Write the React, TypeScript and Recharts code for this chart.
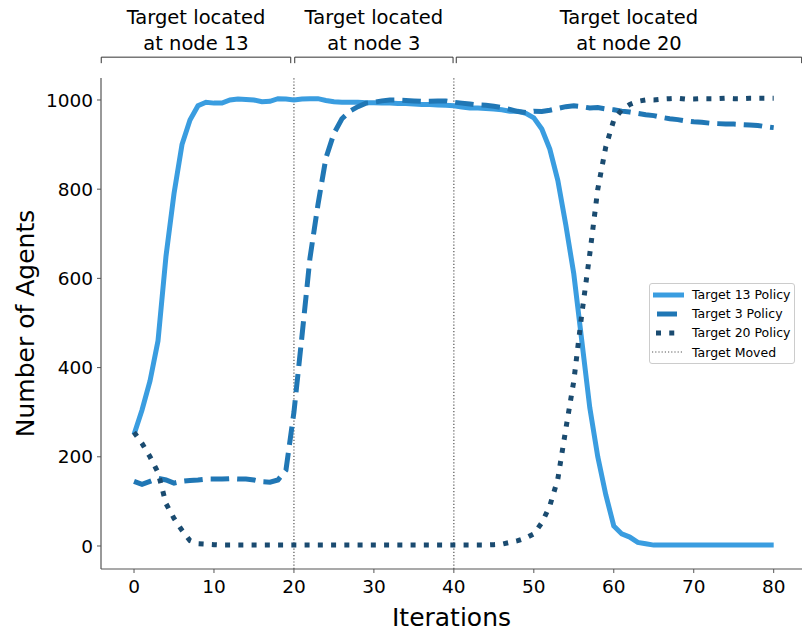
import { Legend, Line, LineChart, ReferenceLine, XAxis, YAxis } from 'recharts'

// agents following each policy, iterations 0..80
const target13 = [
  250, 305, 370, 460, 650, 790, 900, 955, 987, 995,
  993, 993, 1000, 1002, 1001, 1000, 996, 997, 1003, 1002,
  1000, 1002, 1003, 1003, 999, 996, 995, 995, 995, 994,
  994, 993, 993, 992, 992, 991, 990, 990, 989, 988,
  987, 984, 982, 982, 981, 980, 978, 975, 975, 970,
  960, 935, 890, 820, 720, 610, 460, 310, 200, 115,
  45, 27, 20, 8, 5, 2, 2, 2, 2, 2,
  2, 2, 2, 2, 2, 2, 2, 2, 2, 2,
  2,
]
const target3 = [
  145, 138, 145, 152, 148, 141, 145, 147, 148, 150,
  150, 150, 151, 150, 150, 148, 144, 143, 148, 170,
  300, 470, 645, 765, 870, 925, 958, 975, 985, 993,
  995, 998, 1000, 1000, 999, 998, 997, 997, 998, 998,
  995, 993, 991, 989, 988, 986, 983, 979, 974, 972,
  975, 974, 977, 981, 985, 987, 985, 982, 983, 980,
  978, 975, 973, 970, 967, 965, 961, 958, 956, 953,
  951, 950, 948, 947, 946, 946, 945, 944, 943, 940,
  938,
]
const target20 = [
  255, 230, 200, 165, 95, 62, 35, 12, 5, 4,
  3, 2, 2, 2, 2, 2, 2, 2, 2, 2,
  2, 2, 2, 2, 2, 2, 2, 2, 2, 2,
  2, 2, 2, 2, 2, 2, 2, 2, 2, 2,
  2, 2, 2, 2, 2, 3, 4, 8, 12, 18,
  27, 52, 90, 150, 262, 370, 520, 655, 800, 895,
  955, 978, 990, 997, 1000, 1000, 1002, 1003, 1004, 1002,
  1002, 1003, 1003, 1003, 1004, 1003, 1003, 1004, 1004, 1004,
  1004,
]
const iterations = target13.map((_, i) => i)

const xTicks = [0, 10, 20, 30, 40, 50, 60, 70, 80]
const yTicks = [0, 200, 400, 600, 800, 1000]
const moves = [20, 40]

const phases = [
  { from: -4.1, to: 19.6, line1: 'Target located', line2: 'at node 13' },
  { from: 20.1, to: 39.9, line1: 'Target located', line2: 'at node 3' },
  { from: 40.3, to: 83.5, line1: 'Target located', line2: 'at node 20' },
]

const data = iterations.map((it, i) => ({
  it,
  t13: target13[i],
  t3: target3[i],
  t20: target20[i],
}))

const FONT = '"DejaVu Sans", sans-serif'
const C13 = '#3a9de0'
const C3 = '#2077b5'
const C20 = '#1a4b70'
const X_DOMAIN = [-4.13, 83.54]
const Y_DOMAIN = [-51.6, 1049.3]
const BRACKET_Y = 1096

const legendItems = [
  { name: 'Target 13 Policy', color: C13, width: 5, dash: undefined, x1: 1, x2: 32 },
  { name: 'Target 3 Policy', color: C3, width: 5, dash: undefined, x1: 5, x2: 25 },
  { name: 'Target 20 Policy', color: C20, width: 5, dash: '5 8.25', x1: 4, x2: 23 },
  { name: 'Target Moved', color: '#555', width: 1, dash: '1.2 2', x1: 0, x2: 31 },
]

function LegendBox() {
  return (
    <div
      style={{
        border: '1px solid #ccc',
        borderRadius: 3,
        background: '#fff',
        padding: '1px 4px 1px 2px',
        fontFamily: FONT,
        fontSize: 12.5,
        color: '#000',
      }}
    >
      {legendItems.map((d) => (
        <div key={d.name} style={{ display: 'flex', alignItems: 'center', height: 19.2 }}>
          <svg width={32} height={10} style={{ marginRight: 8 }}>
            <line
              x1={d.x1}
              x2={d.x2}
              y1={5}
              y2={5}
              stroke={d.color}
              strokeWidth={d.width}
              strokeDasharray={d.dash}
            />
          </svg>
          <span style={{ whiteSpace: 'nowrap' }}>{d.name}</span>
        </div>
      ))}
    </div>
  )
}

const Bracket = (props: any) => {
  const { x1, x2, y1 } = props
  return (
    <path
      d={`M${x1},${y1 + 6}L${x1},${y1}L${x2},${y1}L${x2},${y1 + 6}`}
      fill='none'
      stroke='#333'
      strokeWidth={1}
    />
  )
}

const phaseLabel = (line1: string, line2: string) => (props: any) => {
  const { viewBox } = props
  const cx = viewBox.x + viewBox.width / 2
  return (
    <text x={cx} y={viewBox.y} textAnchor='middle' fontFamily={FONT} fontSize={19.5} fill='#000'>
      <tspan x={cx} dy={-33}>{line1}</tspan>
      <tspan x={cx} dy={26}>{line2}</tspan>
    </text>
  )
}

const xTitle = (props: any) => {
  const { viewBox } = props
  return (
    <text x={viewBox.x + viewBox.width / 2} y={viewBox.y + 57} textAnchor='middle' fontFamily={FONT} fontSize={25} fill='#000'>
      Iterations
    </text>
  )
}

const yTitle = (props: any) => {
  const { viewBox } = props
  const cy = viewBox.y + viewBox.height / 2
  return (
    <text
      x={25}
      y={cy}
      transform={`rotate(-90 25 ${cy})`}
      textAnchor='middle'
      dominantBaseline='central'
      fontFamily={FONT}
      fontSize={25}
      fill='#000'
    >
      Number of Agents
    </text>
  )
}

const tickStyle = { fontFamily: FONT, fontSize: 18.5, fill: '#000' }

export default function App() {
  return (
    <div style={{ background: '#fff' }}>
      <style>{'body{margin:0}'}</style>
      <LineChart width={802} height={633} data={data} margin={{ top: 78, right: 0, bottom: 0, left: 0 }}>
        <XAxis
          xAxisId='top'
          orientation='top'
          dataKey='it'
          type='number'
          domain={X_DOMAIN}
          allowDataOverflow
          height={0}
          tick={false}
          tickLine={false}
          axisLine={{ stroke: '#555', strokeWidth: 1.2 }}
        />
        <XAxis
          dataKey='it'
          type='number'
          domain={X_DOMAIN}
          allowDataOverflow
          ticks={xTicks}
          height={64}
          tickSize={4}
          tickMargin={7}
          tick={tickStyle}
          stroke='#555'
          axisLine={{ stroke: '#555', strokeWidth: 1.2 }}
          label={xTitle}
        />
        <YAxis
          type='number'
          domain={Y_DOMAIN}
          allowDataOverflow
          ticks={yTicks}
          width={101}
          tickSize={4}
          tickMargin={4}
          tick={tickStyle}
          stroke='#555'
          axisLine={{ stroke: '#555', strokeWidth: 1.2 }}
          label={yTitle}
        />
        {moves.map((m) => (
          <ReferenceLine key={m} x={m} stroke='#444' strokeWidth={1.1} strokeDasharray='1.2 2' />
        ))}
        {phases.map((p) => (
          <ReferenceLine
            key={p.line2}
            segment={[
              { x: p.from, y: BRACKET_Y },
              { x: p.to, y: BRACKET_Y },
            ]}
            ifOverflow='visible'
            shape={Bracket}
            label={phaseLabel(p.line1, p.line2)}
          />
        ))}
        <Line
          dataKey='t13'
          name='Target 13 Policy'
          type='linear'
          stroke={C13}
          strokeWidth={5}
          dot={false}
          isAnimationActive={false}
        />
        <Line
          dataKey='t3'
          name='Target 3 Policy'
          type='linear'
          stroke={C3}
          strokeWidth={5}
          strokeDasharray='18.5 8'
          dot={false}
          isAnimationActive={false}
        />
        <Line
          dataKey='t20'
          name='Target 20 Policy'
          type='linear'
          stroke={C20}
          strokeWidth={5}
          strokeDasharray='5 8.25'
          dot={false}
          isAnimationActive={false}
        />
        <Legend
          layout='horizontal'
          verticalAlign='middle'
          align='center'
          content={<LegendBox />}
          wrapperStyle={{ position: 'absolute', left: 649, top: 283, width: 'auto', bottom: 'auto' }}
        />
      </LineChart>
    </div>
  )
}
